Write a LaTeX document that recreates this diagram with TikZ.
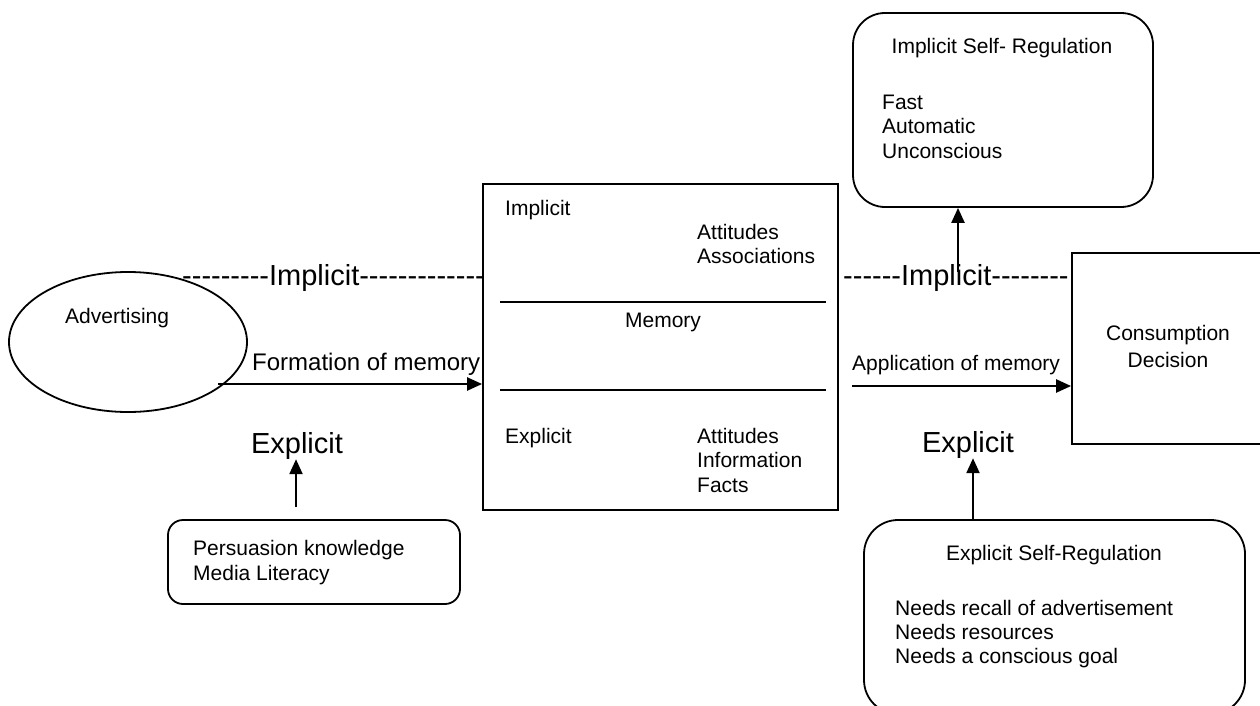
\documentclass[tikz,border=0pt]{standalone}
\usepackage{fontspec}
\setmainfont{Liberation Sans}
\usetikzlibrary{shapes.geometric,arrows.meta}
\newcommand\hy{-\kern0pt\relax}
\begin{document}
\begin{tikzpicture}[x=1pt,y=-1pt,
  box/.style={draw,line width=1.8pt,rectangle,inner sep=0pt},
  rbox/.style={box,rounded corners=#1},
  txt/.style={inner sep=0pt,anchor=base west,font=\fontsize{21}{24}\selectfont},
  ctxt/.style={txt,anchor=base},
  big/.style={inner sep=0pt,anchor=base west,font=\fontsize{29}{32}\selectfont},
  arr/.style={line width=2.3pt,-{Triangle[length=15pt,width=13pt]}}]
\useasboundingbox (0,0) rectangle (1260,706);
\clip (0,0) rectangle (1260,706);

% Advertising
\node[box,ellipse,minimum width=238pt,minimum height=140pt] (adv) at (128,342) {};
\node[txt] (advt) at (65,323) {Advertising};

% Memory box
\node[box,minimum width=355pt,minimum height=326pt] (mem) at (660.5,347) {};
\draw[line width=1.8pt] (500,302) -- (826,302);
\draw[line width=1.8pt] (500,390) -- (826,390);
\node[txt] (mimp) at (505,215) {Implicit};
\node[txt] (matt1) at (697,239) {Attitudes};
\node[txt] (mass) at (697,263) {Associations};
\node[ctxt] (mmem) at (663,327) {Memory};
\node[txt] (mexp) at (505,443) {Explicit};
\node[txt] (matt2) at (697,443) {Attitudes};
\node[txt] (minf) at (697,467) {Information};
\node[txt] (mfac) at (697,492) {Facts};

% Consumption decision
\node[box,minimum width=208pt,minimum height=191pt] (cons) at (1176,348.5) {};
\node[ctxt] (cons1) at (1168,340) {Consumption};
\node[ctxt] (cons2) at (1168,367) {Decision};

% Implicit self-regulation
\node[rbox=32pt,minimum width=300pt,minimum height=194pt] (isr) at (1003,110) {};
\node[ctxt] (isrt) at (1002,54) {Implicit Self- Regulation};
\node[txt] (isr1) at (882,110) {Fast};
\node[txt] (isr2) at (882,133) {Automatic};
\node[txt] (isr3) at (882,158) {Unconscious};

% Persuasion knowledge
\node[rbox=15pt,minimum width=292pt,minimum height=84pt] (pk) at (314,562) {};
\node[txt] (pk1) at (193,555) {Persuasion knowledge};
\node[txt] (pk2) at (193,580) {Media Literacy};

% Explicit self-regulation
\node[rbox=34pt,minimum width=381pt,minimum height=194pt] (esr) at (1054.5,617) {};
\node[ctxt] (esrt) at (1054,560) {Explicit Self-Regulation};
\node[txt] (esr1) at (895,615) {Needs recall of advertisement};
\node[txt] (esr2) at (895,639) {Needs resources};
\node[txt] (esr3) at (895,663) {Needs a conscious goal};

% Dashed implicit labels
\node[big] (imp1) at (182,285) {\hy\hy\hy\hy\hy\hy\hy\hy\hy Implicit\hy\hy\hy\hy\hy\hy\hy\hy\hy\hy\hy\hy\hy};
\node[big] (imp2) at (843,285) {\hy\hy\hy\hy\hy\hy Implicit\hy\hy\hy\hy\hy\hy\hy\hy};

% Explicit labels
\node[big,anchor=base] (exp1) at (297,453) {Explicit};
\node[big,anchor=base] (exp2) at (968,452) {Explicit};

% Arrow labels
\node[txt,font=\fontsize{24}{28}\selectfont] (form) at (252,370) {Formation of memory};
\node[txt] (app) at (852,370) {Application of memory};

% Connectors
\coordinate (fs) at (218,384);
\draw[arr] (fs) -- (fs -| mem.west);
\coordinate (as) at (852,386);
\draw[arr] (as) -- (as -| cons.west);
\coordinate (e1s) at (296,507);
\draw[arr] (e1s) -- (e1s |- exp1.south);
\coordinate (e2s) at (973,520);
\draw[arr] (e2s) -- (e2s |- exp2.south);
\coordinate (i2s) at (958,272);
\draw[arr] (i2s) -- (i2s |- isr.south);
\end{tikzpicture}
\end{document}
